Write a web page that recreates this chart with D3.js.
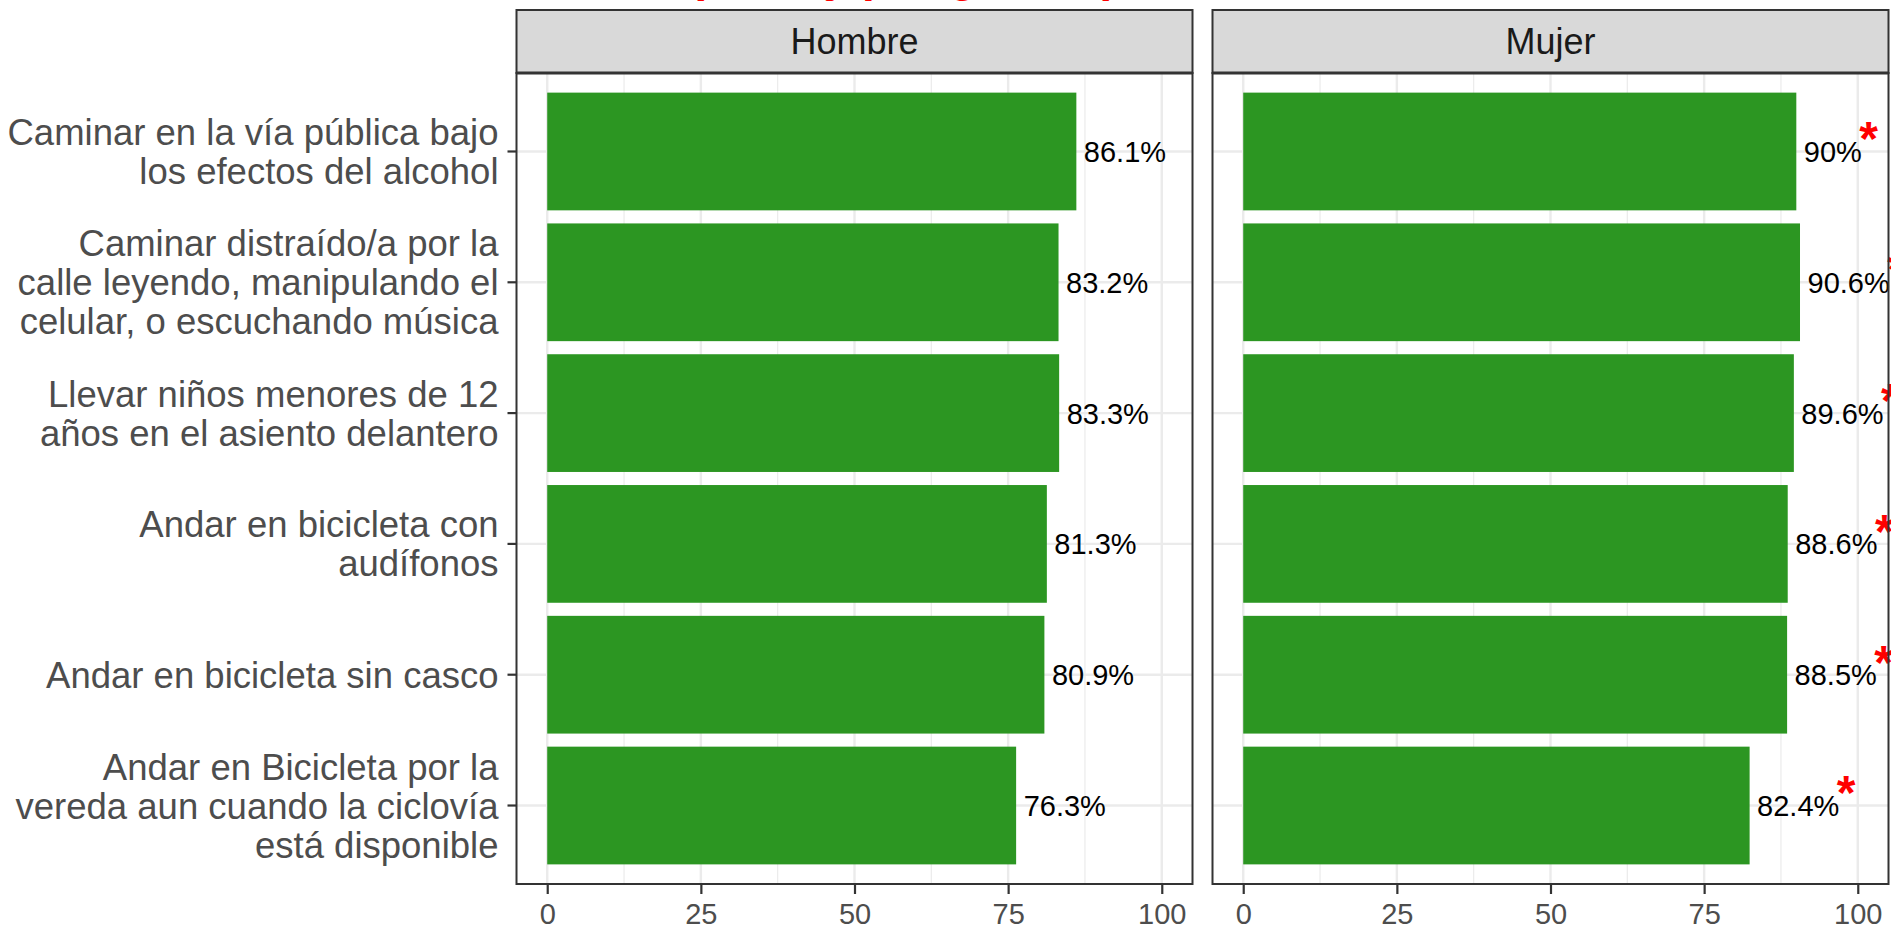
<!DOCTYPE html>
<html>
<head>
<meta charset="utf-8">
<script src="https://cdn.jsdelivr.net/npm/d3@7"></script>
<style>
  html, body { margin: 0; padding: 0; background: #ffffff; }
  svg { display: block; }
  text { font-family: "Liberation Sans", Arial, Helvetica, sans-serif; }
</style>
</head>
<body>
<svg id="chart" width="1891" height="926"></svg>
<script>
// ---- data ----
const categories = [
  "Caminar en la vía pública bajo\nlos efectos del alcohol",
  "Caminar distraído/a por la\ncalle leyendo, manipulando el\ncelular, o escuchando música",
  "Llevar niños menores de 12\naños en el asiento delantero",
  "Andar en bicicleta con\naudífonos",
  "Andar en bicicleta sin casco",
  "Andar en Bicicleta por la\nvereda aun cuando la ciclovía\nestá disponible"
];
const panels = ["Hombre", "Mujer"];
const hombreValues = [86.1, 83.2, 83.3, 81.3, 80.9, 76.3];
const mujerValues = [90, 90.6, 89.6, 88.6, 88.5, 82.4];
const valueLabelsHombre = ["86.1%", "83.2%", "83.3%", "81.3%", "80.9%", "76.3%"];
const valueLabelsMujer = ["90%", "90.6%", "89.6%", "88.6%", "88.5%", "82.4%"];
const significantMujer = [true, true, true, true, true, true];
const xTicks = [0, 25, 50, 75, 100];
const xMinorTicks = [12.5, 37.5, 62.5, 87.5];
const titleText = "(Total y por género)";

const seriesValues = [hombreValues, mujerValues];
const seriesLabels = [valueLabelsHombre, valueLabelsMujer];
const seriesStars = [null, significantMujer];

// ---- layout ----
const svg = d3.select("#chart");
const panelX = [[516.5, 1192.5], [1212.5, 1888.5]];
const stripTop = 10, panelTop = 73, panelBottom = 884;
const barColor = "#2C9622";

const y = d3.scaleBand()
  .domain(categories)
  .range([panelTop, panelBottom])
  .paddingInner(0.1)
  .paddingOuter(0.15);

// title (cut off at top of image)
svg.append("text")
  .attr("x", 689)
  .attr("y", -9.5)
  .attr("fill", "#FF0000")
  .attr("font-weight", "bold")
  .attr("font-size", 46)
  .text(titleText);

panels.forEach((p, pi) => {
  const [x0, x1] = panelX[pi];
  const x = d3.scaleLinear().domain([-5, 105]).range([x0, x1]);
  const g = svg.append("g");

  g.append("rect").attr("x", x0).attr("y", panelTop)
    .attr("width", x1 - x0).attr("height", panelBottom - panelTop)
    .attr("fill", "#ffffff");

  g.selectAll(".minor").data(xMinorTicks).enter().append("line")
    .attr("x1", d => x(d)).attr("x2", d => x(d))
    .attr("y1", panelTop).attr("y2", panelBottom)
    .attr("stroke", "#EBEBEB").attr("stroke-width", 1.2);
  g.selectAll(".major").data(xTicks).enter().append("line")
    .attr("x1", d => x(d)).attr("x2", d => x(d))
    .attr("y1", panelTop).attr("y2", panelBottom)
    .attr("stroke", "#EBEBEB").attr("stroke-width", 2.4);
  g.selectAll(".hmajor").data(categories).enter().append("line")
    .attr("x1", x0).attr("x2", x1)
    .attr("y1", d => y(d) + y.bandwidth() / 2).attr("y2", d => y(d) + y.bandwidth() / 2)
    .attr("stroke", "#EBEBEB").attr("stroke-width", 2.4);

  const vals = seriesValues[pi];
  const labs = seriesLabels[pi];
  const stars = seriesStars[pi];

  g.selectAll(".bar").data(categories).enter().append("rect")
    .attr("x", x(0))
    .attr("y", d => y(d))
    .attr("width", (d, i) => x(vals[i]) - x(0))
    .attr("height", y.bandwidth())
    .attr("fill", barColor);

  const labelSel = g.selectAll(".vlabel").data(categories).enter().append("text")
    .attr("x", (d, i) => x(vals[i]) + 7.5)
    .attr("y", d => y(d) + y.bandwidth() / 2 + 10.5)
    .attr("font-size", 29)
    .attr("fill", "#000000")
    .text((d, i) => labs[i]);

  if (stars) {
    labelSel.each(function(d, i) {
      if (!stars[i]) return;
      const node = this;
      const end = +node.getAttribute("x") + node.getComputedTextLength();
      const cy = y(d) + y.bandwidth() / 2 - 24;
      g.append("text")
        .attr("x", end - 2.5)
        .attr("y", cy + 0.58 * 48)
        .attr("font-size", 48)
        .attr("font-weight", "bold")
        .attr("fill", "#FF0000")
        .text("*");
    });
  }

  g.append("rect").attr("x", x0).attr("y", panelTop)
    .attr("width", x1 - x0).attr("height", panelBottom - panelTop)
    .attr("fill", "none").attr("stroke", "#333333").attr("stroke-width", 2);

  g.append("rect").attr("x", x0).attr("y", stripTop)
    .attr("width", x1 - x0).attr("height", panelTop - stripTop)
    .attr("fill", "#D9D9D9").attr("stroke", "#333333").attr("stroke-width", 2);
  g.append("line").attr("x1", x0).attr("x2", x1)
    .attr("y1", panelTop).attr("y2", panelTop)
    .attr("stroke", "#333333").attr("stroke-width", 3);
  g.append("text")
    .attr("x", (x0 + x1) / 2)
    .attr("y", 54)
    .attr("text-anchor", "middle")
    .attr("font-size", 36)
    .attr("fill", "#1A1A1A")
    .text(p);

  const xAxis = d3.axisBottom(x).tickValues(xTicks).tickSize(10).tickPadding(9)
    .tickFormat(d3.format("d"));
  const ax = svg.append("g").attr("transform", `translate(0,${panelBottom})`).call(xAxis);
  ax.select(".domain").remove();
  ax.selectAll(".tick line").attr("stroke", "#333333").attr("stroke-width", 2.2);
  ax.selectAll(".tick text").attr("font-size", 29).attr("fill", "#4D4D4D")
    .attr("font-family", "Liberation Sans, Arial, sans-serif");

  if (pi === 0) {
    const yAxis = d3.axisLeft(y).tickSize(9).tickPadding(9).tickFormat("");
    const ay = svg.append("g").attr("transform", `translate(${x0},0)`).call(yAxis);
    ay.select(".domain").remove();
    ay.selectAll(".tick line").attr("stroke", "#333333").attr("stroke-width", 2.2);
    ay.selectAll(".tick text").remove();
    const lineH = 39;
    categories.forEach(c => {
      const lines = c.split("\n");
      const cy = y(c) + y.bandwidth() / 2;
      const t = svg.append("text")
        .attr("text-anchor", "end")
        .attr("font-size", 36.5)
        .attr("fill", "#4D4D4D");
      lines.forEach((ln, li) => {
        t.append("tspan")
          .attr("x", 498.5)
          .attr("y", cy - (lines.length - 1) / 2 * lineH + li * lineH + 13)
          .text(ln);
      });
    });
  }
});
</script>
</body>
</html>
